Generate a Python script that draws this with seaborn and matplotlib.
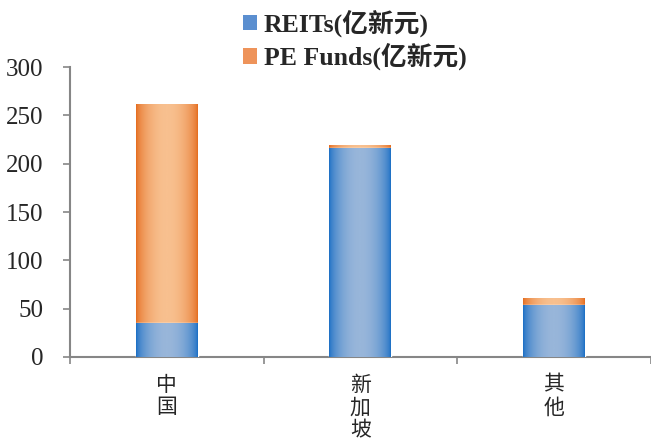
import numpy as np
import pandas as pd
import matplotlib
matplotlib.use("Agg")
import matplotlib.pyplot as plt
import seaborn as sns
from matplotlib.colors import LinearSegmentedColormap
from matplotlib.patches import Patch

# data
regions = ["中\n国", "新\n加\n坡", "其\n他"]
reits = [35, 216, 54]
pe_funds = [227, 3, 7]

df = pd.DataFrame({"region": regions, "REITs": reits, "PE": pe_funds})
df["total"] = df["REITs"] + df["PE"]

sns.set_theme(style="white")
plt.rcParams["font.family"] = ["Liberation Serif", "Noto Sans CJK SC", "DejaVu Sans"]

fig = plt.figure(figsize=(6.51, 4.44), dpi=100)
ax = fig.add_axes([0.1075, 0.196, 0.892, 0.653])

# PE Funds stacked on REITs: draw totals first, then REITs over them
sns.barplot(data=df, x="region", y="total", color="#e46c1e", width=0.32,
            saturation=1, ax=ax, zorder=2)
sns.barplot(data=df, x="region", y="REITs", color="#1f6fc5", width=0.32,
            saturation=1, ax=ax, zorder=3)

blue_cmap = LinearSegmentedColormap.from_list("b", ["#166cc4", "#98b6da"])
orange_cmap = LinearSegmentedColormap.from_list("o", ["#e4691a", "#f8c08f"])

# horizontal gradient: dark edges, light middle
t = np.linspace(0, 1, 200)
grad = np.sin(np.pi * t) ** 0.6
grad = grad[np.newaxis, :]

n = len(regions)
for i, p in enumerate(ax.patches):
    cmap = orange_cmap if i < n else blue_cmap
    x0, y0 = p.get_x(), p.get_y()
    w, h = p.get_width(), p.get_height()
    im = ax.imshow(grad, cmap=cmap, aspect="auto", vmin=0, vmax=1,
                   extent=[x0, x0 + w, y0, y0 + h], zorder=p.get_zorder() + 0.1)
    im.set_clip_path(p)

ax.set_xlim(-0.5, 2.5)
ax.set_ylim(0, 300)
ax.set_yticks(range(0, 301, 50))
ax.set_xlabel("")
ax.set_ylabel("")

for s in ["top", "right"]:
    ax.spines[s].set_visible(False)
for s in ["left", "bottom"]:
    ax.spines[s].set_color("#868686")
    ax.spines[s].set_linewidth(1.5)

ax.tick_params(axis="y", which="major", direction="out", length=5, width=1.2,
               color="#868686", labelsize=18, pad=14, left=True)
ax.tick_params(axis="x", which="major", length=0, pad=12)
ax.set_xticks([-0.5, 0.5, 1.5, 2.5], minor=True)
ax.tick_params(axis="x", which="minor", direction="out", length=5, width=1.2,
               color="#868686", bottom=True)
for lab in ax.get_yticklabels():
    lab.set_family(["Liberation Serif"])
for lab in ax.get_xticklabels():
    lab.set_family(["Noto Sans CJK SC"])
    lab.set_fontsize(15)
    lab.set_linespacing(1.05)
    lab.set_verticalalignment("top")

handles = [Patch(facecolor="#5b8fd0", edgecolor="none", label="REITs(亿新元)"),
           Patch(facecolor="#ee935a", edgecolor="none", label="PE Funds(亿新元)")]
fig.legend(handles=handles, loc="upper left", bbox_to_anchor=(0.338, 1.03),
           frameon=False, ncol=1, handlelength=0.55, handleheight=0.55,
           handletextpad=0.25, labelspacing=0.22,
           prop={"family": ["Liberation Serif", "Noto Sans CJK SC"],
                 "weight": "bold", "size": 18.5})

fig.savefig("out.png", dpi=100)
